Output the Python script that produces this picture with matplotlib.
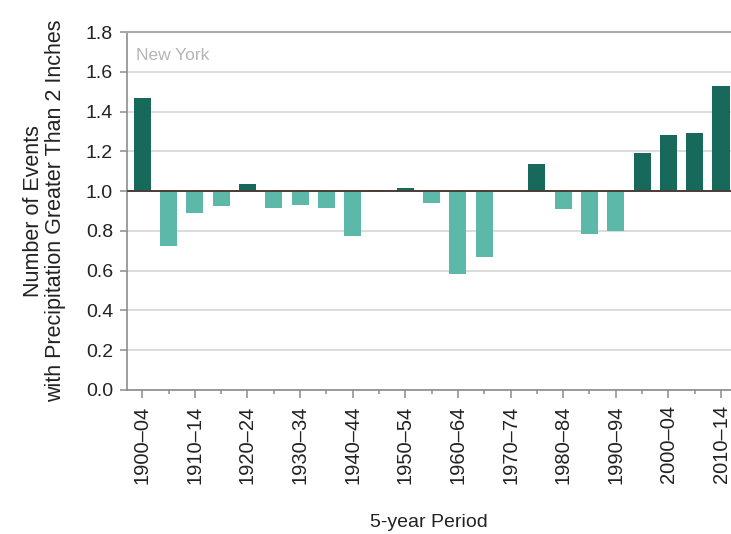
import numpy as np
import matplotlib
matplotlib.use('Agg')
import matplotlib.pyplot as plt

plt.rcParams['font.family'] = ['Liberation Sans', 'DejaVu Sans']

# 5-year periods, 1900-04 through 2010-14
periods = ['1900–04', '1905–09', '1910–14', '1915–19', '1920–24', '1925–29',
           '1930–34', '1935–39', '1940–44', '1945–49', '1950–54', '1955–59',
           '1960–64', '1965–69', '1970–74', '1975–79', '1980–84', '1985–89',
           '1990–94', '1995–99', '2000–04', '2005–09', '2010–14']

# Number of events relative to the long-term average (index = 1.0)
events = [1.47, 0.725, 0.89, 0.927, 1.034, 0.913, 0.932, 0.917, 0.773, 1.008,
          1.014, 0.939, 0.583, 0.667, 1.0, 1.136, 0.908, 0.783, 0.798, 1.193,
          1.282, 1.29, 1.528]

baseline = 1.0
dark = '#17695c'
light = '#5cb8a8'

fig = plt.figure(figsize=(7.31, 5.34), dpi=100)
ax = fig.add_axes([0.1737, 0.2697, 0.8263, 0.6703])

x = np.arange(len(periods))
vals = np.array(events)
colors = [dark if v >= baseline else light for v in vals]
ax.bar(x, vals - baseline, bottom=baseline, width=0.65, color=colors, zorder=3)

ax.axhline(baseline, color='#4a3d38', linewidth=1.4, zorder=4)

ax.set_ylim(0, 1.8)
ax.set_yticks(np.arange(0, 1.81, 0.2))
ax.set_yticklabels(['{:.1f}'.format(t) for t in np.arange(0, 1.81, 0.2)])
ax.set_xlim(-0.58, 22.38)
ax.grid(axis='y', color='#d9d9d9', linewidth=1.3, zorder=0)

# labelled ticks every 10 years, small ticks for every bar
ax.set_xticks(x[::2])
ax.set_xticklabels(periods[::2], rotation=90)
ax.set_xticks(x[1::2], minor=True)

ax.spines['right'].set_visible(False)
ax.spines['top'].set_color('#aaaaaa')
ax.spines['top'].set_linewidth(1.5)
ax.spines['left'].set_color('#8c8c8c')
ax.spines['bottom'].set_color('#8c8c8c')
ax.spines['left'].set_linewidth(1.2)
ax.spines['bottom'].set_linewidth(1.2)

ax.tick_params(axis='y', which='major', labelsize=14, colors='#8c8c8c',
               labelcolor='#222222', length=5, width=1.1, pad=5)
ax.tick_params(axis='x', which='major', labelsize=14.5, colors='#8c8c8c',
               labelcolor='#222222', length=6, width=1.1, pad=5)
ax.tick_params(axis='x', which='minor', length=3, width=1.1, colors='#8c8c8c')

ax.text(0.015, 0.955, 'New York', transform=ax.transAxes, fontsize=12.5,
        color='#b5b5b5', va='top', ha='left')

ax.set_ylabel('Number of Events\nwith Precipitation Greater Than 2 Inches',
              fontsize=15.5, color='#222222', labelpad=14, linespacing=1.1)
ax.set_xlabel('5-year Period', fontsize=14, color='#222222', labelpad=22)

fig.savefig('out.png', dpi=100)
